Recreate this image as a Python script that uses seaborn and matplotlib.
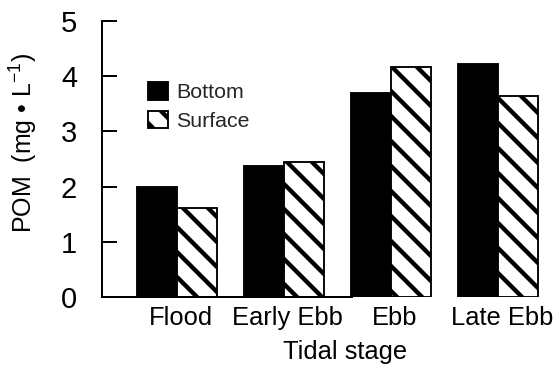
import matplotlib
matplotlib.use("Agg")
import matplotlib.pyplot as plt
import matplotlib.transforms as mtransforms
import seaborn as sns
import pandas as pd

# Particulate organic matter by tidal stage and sampling depth
stages = ["Flood", "Early Ebb", "Ebb", "Late Ebb"]
bottom = [2.00, 2.37, 3.69, 4.23]
surface = [1.61, 2.44, 4.16, 3.64]
depths = ["Bottom", "Surface"]
y_ticks = [0, 1, 2, 3, 4, 5]

df = pd.DataFrame({
    "stage": stages * 2,
    "depth": [depths[0]] * len(stages) + [depths[1]] * len(stages),
    "pom": bottom + surface,
})

sns.set_theme(style="white")
plt.rcParams["font.family"] = ["Liberation Sans", "DejaVu Sans"]
plt.rcParams["mathtext.fontset"] = "custom"
plt.rcParams["mathtext.rm"] = "Liberation Sans"
plt.rcParams["hatch.linewidth"] = 4.2
plt.rcParams["hatch.color"] = "black"

DPI = 75
fig = plt.figure(figsize=(558 / DPI, 366 / DPI), dpi=DPI)
ax = fig.add_axes([102 / 558, 69 / 366, 443 / 558, 276 / 366])

sns.barplot(data=df, x="stage", y="pom", hue="depth", order=stages,
            hue_order=depths, palette={"Bottom": "black", "Surface": "white"},
            width=0.75, edgecolor="black", linewidth=1.8, saturation=1,
            errorbar=None, legend=False, ax=ax)

for bar in ax.containers[1]:
    bar.set_hatch("\\")

ax.set_ylim(0, 5)
ax.set_xlim(-0.70, 3.44)
ax.set_yticks(y_ticks)
ax.set_yticklabels([str(t) for t in y_ticks])

for side in ("top", "right"):
    ax.spines[side].set_visible(False)
for side in ("left", "bottom"):
    ax.spines[side].set_color("black")
    ax.spines[side].set_linewidth(1.9)
ax.spines["bottom"].set_bounds(-0.70, 1.64)

ax.tick_params(axis="y", direction="in", length=14, width=1.9, color="black",
               pad=24, labelsize=28, labelcolor="black", left=True)
ax.tick_params(axis="x", length=0, pad=9, labelsize=24.5, labelcolor="black")

# nudge the category names slightly to the right of the group centres
shift = mtransforms.ScaledTranslation(4 / DPI, 0, fig.dpi_scale_trans)
for lbl in ax.get_xticklabels():
    lbl.set_transform(lbl.get_transform() + shift)

ax.set_xlabel("Tidal stage", fontsize=24.5, color="black")
ax.xaxis.set_label_coords(0.549, -0.155)
ax.set_ylabel("POM  (mg \u2022 L$^{\\mathregular{-1}}$)", fontsize=24,
              color="black")
ax.yaxis.set_label_coords(-0.14, 0.56)

handles = [ax.containers[0][0], ax.containers[1][0]]
leg = ax.legend(handles, ["Bottom", "Surface"], loc="upper left",
                bbox_to_anchor=(0.085, 0.81), frameon=False, fontsize=20.5,
                handlelength=0.95, handleheight=0.9, handletextpad=0.35,
                labelspacing=0.4, borderaxespad=0)

fig.savefig("out.png", dpi=DPI, facecolor="white")
